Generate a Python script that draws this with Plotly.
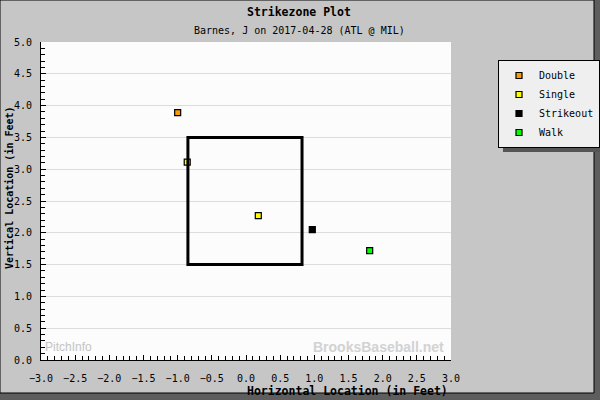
import plotly.graph_objects as go

# ---- data ----
outcomes = ["Double", "Single", "Single", "Strikeout", "Walk"]
px_ft = [-1.00, -0.86, 0.18, 0.97, 1.81]
pz_ft = [3.89, 3.11, 2.27, 2.05, 1.72]
legend_order = ["Double", "Single", "Strikeout", "Walk"]
colors = {"Double": "#FF9900", "Single": "#FFFF00", "Strikeout": "#000000", "Walk": "#00FF00"}
zone_x = [-0.85, 0.82]
zone_z = [1.5, 3.5]
x_tickvals = [-3.0, -2.5, -2.0, -1.5, -1.0, -0.5, 0.0, 0.5, 1.0, 1.5, 2.0, 2.5, 3.0]
y_tickvals = [0.0, 0.5, 1.0, 1.5, 2.0, 2.5, 3.0, 3.5, 4.0, 4.5, 5.0]

W, H = 600, 400
L, R, T, B = 41, 149, 42, 40
PW, PH = W - L - R, H - T - B


def pxx(p):
    return (p - L) / PW


def pxy(p):
    return (H - B - p) / PH


MONO = "DejaVu Sans Mono"

fig = go.Figure()
for name in legend_order:
    xs = [x for x, o in zip(px_ft, outcomes) if o == name]
    ys = [z for z, o in zip(pz_ft, outcomes) if o == name]
    fig.add_trace(go.Scatter(
        x=xs, y=ys, mode="markers", name=name,
        marker=dict(symbol="square", size=6, color=colors[name],
                    line=dict(color="#000000", width=1.2)),
    ))

LEG_L, LEG_T, LEG_R, LEG_B = 498, 60, 598, 147

shapes = [
    # outer panel
    dict(type="rect", xref="paper", yref="paper", layer="below",
         x0=pxx(0), x1=pxx(594), y0=pxy(393), y1=pxy(0),
         fillcolor="#C6C6C6", line=dict(color="#000000", width=1)),
    # plot area
    dict(type="rect", xref="paper", yref="paper", layer="below",
         x0=0, x1=1, y0=0, y1=1, fillcolor="#FBFCFB", line=dict(width=0)),
    # strike zone
    dict(type="rect", xref="x", yref="y", layer="above",
         x0=zone_x[0], x1=zone_x[1], y0=zone_z[0], y1=zone_z[1],
         line=dict(color="#000000", width=3)),
    # legend shadow
    dict(type="rect", xref="paper", yref="paper", layer="above",
         x0=pxx(LEG_L + 5), x1=pxx(LEG_R + 5), y0=pxy(LEG_B + 5), y1=pxy(LEG_T + 5),
         fillcolor="#555555", line=dict(width=0)),
]

annotations = [
    dict(text="<b>Strikezone Plot</b>", xref="paper", yref="paper",
         x=pxx(299), y=pxy(12), showarrow=False, xanchor="center", yanchor="middle",
         font=dict(family=MONO, size=11.5, color="#000000")),
    dict(text="Barnes, J on 2017-04-28 (ATL @ MIL)", xref="paper", yref="paper",
         x=pxx(299), y=pxy(30), showarrow=False, xanchor="center", yanchor="middle",
         font=dict(family=MONO, size=10, color="#000000")),
    dict(text="<b>Horizontal Location (in Feet)</b>", xref="paper", yref="paper",
         x=pxx(450), y=pxy(391), showarrow=False, xanchor="right", yanchor="middle",
         font=dict(family=MONO, size=11.5, color="#000000")),
    dict(text="<b>Vertical Location (in Feet)</b>", xref="paper", yref="paper",
         x=pxx(9), y=pxy(188), showarrow=False, textangle=-90,
         xanchor="center", yanchor="middle",
         font=dict(family=MONO, size=10, color="#000000")),
    dict(text="PitchInfo", xref="paper", yref="paper",
         x=pxx(43), y=pxy(347), showarrow=False, xanchor="left", yanchor="middle",
         font=dict(family="Liberation Sans", size=12, color="#C4C4C4")),
    dict(text="<b>BrooksBaseball.net</b>", xref="paper", yref="paper",
         x=pxx(446), y=pxy(347), showarrow=False, xanchor="right", yanchor="middle",
         font=dict(family="Liberation Sans", size=14, color="#D2D2D2")),
]

fig.update_layout(
    width=W, height=H, autosize=False,
    margin=dict(l=L, r=R, t=T, b=B, pad=0, autoexpand=False),
    paper_bgcolor="#5E5E5E", plot_bgcolor="rgba(0,0,0,0)",
    font=dict(family=MONO, size=10, color="#000000"),
    shapes=shapes, annotations=annotations,
    showlegend=True,
    legend=dict(xref="container", yref="container",
                x=LEG_L / W, y=1 - LEG_T / H, xanchor="left", yanchor="top",
                bgcolor="#EFEFEF", bordercolor="#000000", borderwidth=1,
                font=dict(family=MONO, size=10, color="#000000")),
    xaxis=dict(range=[-3, 3], tickvals=x_tickvals, tickformat=".1f", automargin=False,
               showgrid=False, zeroline=False, showline=True, linecolor="#000000",
               linewidth=1, ticks="inside", ticklen=5, tickcolor="#000000",
               ticklabelstandoff=9,
               minor=dict(dtick=0.1, ticks="inside", ticklen=4, tickcolor="#000000",
                          showgrid=False),
               tickfont=dict(family=MONO, size=10)),
    yaxis=dict(range=[0, 5], tickvals=y_tickvals, tickformat=".1f", automargin=False,
               showgrid=True, gridcolor="#DCDCDC", gridwidth=1,
               zeroline=False, showline=True, linecolor="#000000",
               linewidth=1, ticks="inside", ticklen=5, tickcolor="#000000",
               ticklabelstandoff=6,
               minor=dict(dtick=0.1, ticks="inside", ticklen=4, tickcolor="#000000",
                          showgrid=False),
               tickfont=dict(family=MONO, size=10)),
)

fig.write_html("out.html", config={"displayModeBar": False},
               post_script="document.body.style.margin='0';")
